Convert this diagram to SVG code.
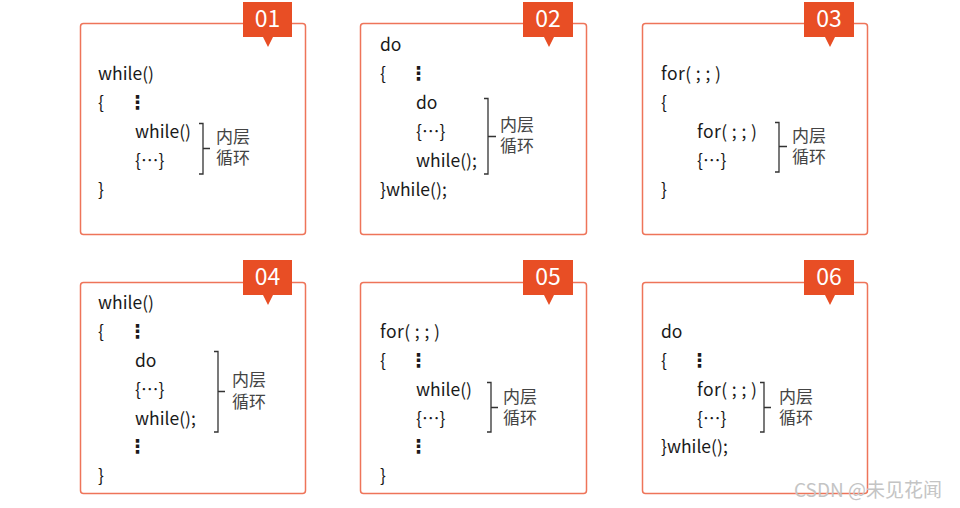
<svg xmlns="http://www.w3.org/2000/svg" width="960" height="508" viewBox="0 0 960 508">
<style>
.box{fill:#fff;stroke:#EE7459;stroke-width:1.5}
.tab{fill:#E84E25}
.num{font-family:"Noto Sans CJK SC","Liberation Sans",sans-serif;font-size:23px;fill:#fff;text-anchor:middle}
.c{font-family:"Noto Sans CJK SC","Liberation Sans",sans-serif;font-size:17.5px;fill:#1a1a1a}
.v{font-family:"DejaVu Sans",sans-serif;font-size:19px;font-weight:bold;fill:#1a1a1a}
.lab{font-family:"Liberation Sans","Noto Sans CJK SC",sans-serif;font-size:17px;fill:#444}
.br{fill:none;stroke:#333;stroke-width:1.3}
.wm{font-family:"Noto Sans CJK SC",sans-serif;font-size:19px;fill:#c4c4c4}
</style>
<rect width="960" height="508" fill="#fff"/>

<g id="node01">
<rect class="box" x="80.5" y="23.5" width="225" height="211" rx="3"/>
<path class="tab" d="M243,2h49v35h-19l-5,10l-5,-10h-20z"/>
<text class="num" x="267.5" y="27">01</text>
<text class="c" x="98" y="80">while()</text>
<text class="c" x="98" y="109">{</text>
<text class="v" x="128" y="109">⋮</text>
<text class="c" x="135" y="138">while()</text>
<text class="c" x="135" y="167">{⋯}</text>
<text class="c" x="98" y="196">}</text>
<path class="br" d="M199,123.5h4v50.5h-4M203,148.5h7"/>
<text class="lab" x="216" y="143">内层</text>
<text class="lab" x="216" y="164">循环</text>
</g>

<g id="node02">
<rect class="box" x="360.5" y="23.5" width="226" height="211" rx="3"/>
<path class="tab" d="M523,2h50v35h-19l-5,10l-5,-10h-21z"/>
<text class="num" x="548" y="27">02</text>
<text class="c" x="380" y="51">do</text>
<text class="c" x="380" y="80">{</text>
<text class="v" x="409" y="80">⋮</text>
<text class="c" x="416" y="109">do</text>
<text class="c" x="416" y="138">{⋯}</text>
<text class="c" x="416" y="167">while();</text>
<text class="c" x="380" y="196">}while();</text>
<path class="br" d="M484,98.5h4v75.5h-4M488,136.5h8"/>
<text class="lab" x="500" y="131">内层</text>
<text class="lab" x="500" y="152">循环</text>
</g>

<g id="node03">
<rect class="box" x="642.5" y="23.5" width="225" height="211" rx="3"/>
<path class="tab" d="M804,2h50v35h-19l-5,10l-5,-10h-21z"/>
<text class="num" x="829" y="27">03</text>
<text class="c" x="661" y="80" textLength="60">for( ; ; )</text>
<text class="c" x="661" y="109">{</text>
<text class="c" x="697" y="138" textLength="60">for( ; ; )</text>
<text class="c" x="697" y="167">{⋯}</text>
<text class="c" x="661" y="196">}</text>
<path class="br" d="M775,122.5h4v49.5h-4M779,146.5h8"/>
<text class="lab" x="792" y="142">内层</text>
<text class="lab" x="792" y="163">循环</text>
</g>

<g id="node04">
<rect class="box" x="80.5" y="282.5" width="225" height="211" rx="3"/>
<path class="tab" d="M243,260h49v35h-19l-5,10l-5,-10h-20z"/>
<text class="num" x="267.5" y="285">04</text>
<text class="c" x="98" y="309">while()</text>
<text class="c" x="98" y="338">{</text>
<text class="v" x="128" y="338">⋮</text>
<text class="c" x="135" y="367">do</text>
<text class="c" x="135" y="396">{⋯}</text>
<text class="c" x="135" y="425">while();</text>
<text class="v" x="128" y="453">⋮</text>
<text class="c" x="98" y="482">}</text>
<path class="br" d="M214,351.5h4v80.5h-4M218,391.5h7"/>
<text class="lab" x="232" y="386">内层</text>
<text class="lab" x="232" y="408">循环</text>
</g>

<g id="node05">
<rect class="box" x="360.5" y="282.5" width="226" height="211" rx="3"/>
<path class="tab" d="M523,260h50v35h-19l-5,10l-5,-10h-21z"/>
<text class="num" x="548" y="285">05</text>
<text class="c" x="380" y="338" textLength="60">for( ; ; )</text>
<text class="c" x="380" y="367">{</text>
<text class="v" x="409" y="367">⋮</text>
<text class="c" x="416" y="396">while()</text>
<text class="c" x="416" y="425">{⋯}</text>
<text class="v" x="409" y="453">⋮</text>
<text class="c" x="380" y="482">}</text>
<path class="br" d="M487,382.5h4v49.5h-4M491,407.5h7"/>
<text class="lab" x="503" y="403">内层</text>
<text class="lab" x="503" y="424">循环</text>
</g>

<g id="node06">
<rect class="box" x="642.5" y="282.5" width="225" height="211" rx="3"/>
<path class="tab" d="M804,260h50v35h-19l-5,10l-5,-10h-21z"/>
<text class="num" x="829" y="285">06</text>
<text class="c" x="661" y="338">do</text>
<text class="c" x="661" y="367">{</text>
<text class="v" x="690" y="367">⋮</text>
<text class="c" x="697" y="396" textLength="60">for( ; ; )</text>
<text class="c" x="697" y="425">{⋯}</text>
<text class="c" x="661" y="453">}while();</text>
<path class="br" d="M760,382.5h4v49.5h-4M764,407.5h7"/>
<text class="lab" x="779" y="403">内层</text>
<text class="lab" x="779" y="424">循环</text>
</g>

<g id="connectors"></g>
<text class="wm" x="794" y="497">CSDN @未见花闻</text>
</svg>
